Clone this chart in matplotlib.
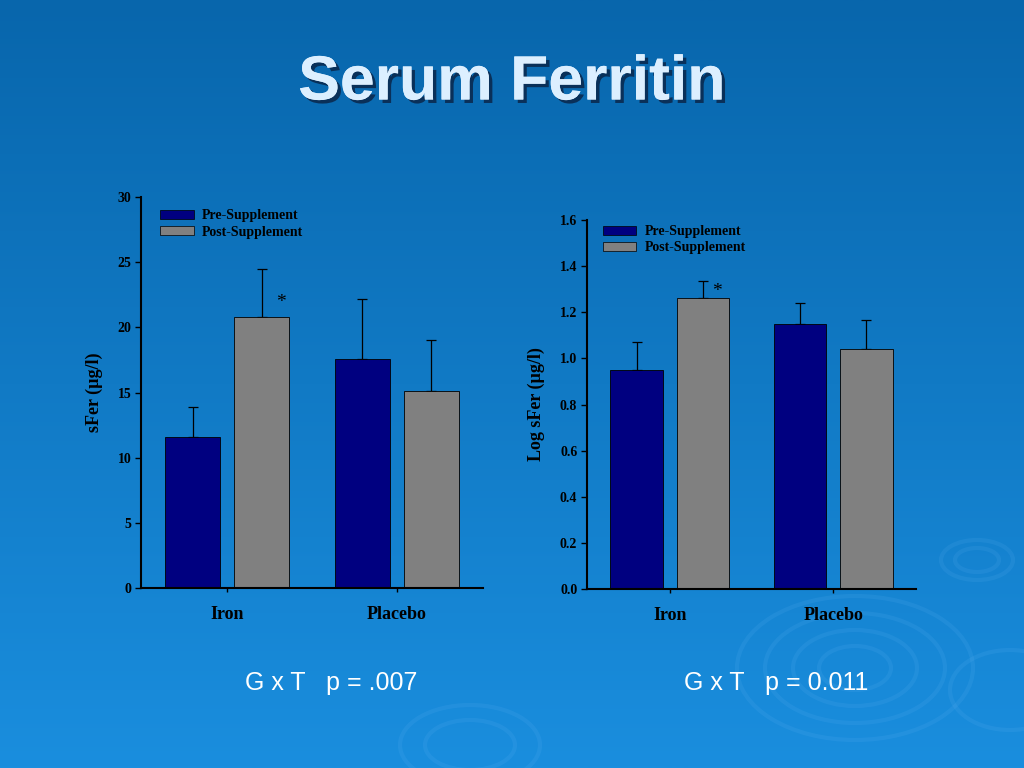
import numpy as np
import matplotlib
matplotlib.use("Agg")
import matplotlib.pyplot as plt
import matplotlib.patheffects as pe
from matplotlib.patches import Ellipse, Patch

# data
groups = ["Iron", "Placebo"]
series = ["Pre-Supplement", "Post-Supplement"]

sfer_pre = [11.6, 17.6]
sfer_post = [20.8, 15.1]
sfer_pre_err = [2.3, 4.6]
sfer_post_err = [3.7, 3.9]

log_pre = [0.95, 1.15]
log_post = [1.26, 1.04]
log_pre_err = [0.12, 0.09]
log_post_err = [0.075, 0.125]

left_stat = "G x T   p = .007"
right_stat = "G x T   p = 0.011"

PRE_COLOR = "#000080"
POST_COLOR = "#808080"
SERIF = ["Liberation Serif", "DejaVu Serif"]
SANS = ["Liberation Sans", "DejaVu Sans"]

fig = plt.figure(figsize=(10.24, 7.68), dpi=100)

# slide background: vertical blue gradient plus a few faint ripples
bg = fig.add_axes([0, 0, 1, 1], zorder=-10)
grad = np.linspace(0, 1, 256)[:, None]
top = np.array([8, 102, 172]) / 255
bottom = np.array([26, 142, 222]) / 255
img = top[None, None, :] * (1 - grad[..., None]) + bottom[None, None, :] * grad[..., None]
bg.imshow(img, extent=[0, 1024, 768, 0], aspect="auto")
for cx, cy, rx, ry in [(855, 668, 118, 72), (855, 668, 90, 55), (855, 668, 62, 38),
                       (855, 668, 36, 22), (977, 560, 36, 20), (977, 560, 22, 12),
                       (470, 745, 70, 40), (470, 745, 45, 25), (1010, 690, 60, 40)]:
    bg.add_patch(Ellipse((cx, cy), 2 * rx, 2 * ry, fill=False,
                         edgecolor="#7cc4ff", alpha=0.1, lw=3))
bg.set_xlim(0, 1024)
bg.set_ylim(768, 0)
bg.axis("off")

fig.text(0.5, 1 - 83 / 768, "Serum Ferritin", ha="center", va="center",
         fontsize=45, fontweight="bold", family=SANS, color="#dcefff",
         path_effects=[pe.withSimplePatchShadow(offset=(2.5, -2.5), shadow_rgbFace="#0a2a50", alpha=0.9),
                       pe.Normal()])


def draw_panel(rect, pre, post, pre_err, post_err, ylim, yticks, fmt, ylabel,
               label_x, star, leg_anchor):
    ax = fig.add_axes(rect)
    ax.set_facecolor("none")
    x = np.arange(len(groups))
    w = 0.32
    off = 0.203
    ax.bar(x - off, pre, w, color=PRE_COLOR, edgecolor="black", linewidth=0.6, label=series[0], zorder=2)
    ax.bar(x + off, post, w, color=POST_COLOR, edgecolor="black", linewidth=0.6, label=series[1], zorder=2)
    ax.errorbar(x - off, pre, yerr=[np.zeros(len(pre)), pre_err], fmt="none",
                ecolor="black", elinewidth=0.9, capsize=3.5, capthick=0.9, zorder=1)
    ax.errorbar(x + off, post, yerr=[np.zeros(len(post)), post_err], fmt="none",
                ecolor="black", elinewidth=0.9, capsize=3.5, capthick=0.9, zorder=1)
    ax.text(star[0], star[1], "*", ha="center", va="center", fontsize=14,
            family=SERIF, color="black")

    ax.set_xlim(-0.506, 1.506)
    ax.set_ylim(*ylim)
    ax.set_yticks(yticks)
    ax.set_yticklabels([fmt.format(v) for v in yticks], family=SERIF,
                       fontweight="bold", fontsize=10, color="black")
    ax.set_xticks(x)
    ax.set_xticklabels(groups, family=SERIF, fontweight="bold", fontsize=13, color="black")
    ax.tick_params(axis="y", direction="out", length=4, width=1, pad=3)
    ax.tick_params(axis="x", direction="out", length=3, width=1, pad=10)
    for s in ["top", "right"]:
        ax.spines[s].set_visible(False)
    for s in ["left", "bottom"]:
        ax.spines[s].set_linewidth(1.5)
        ax.spines[s].set_color("black")
    ax.set_ylabel(ylabel, family=SERIF, fontweight="bold", fontsize=13, color="black")
    ax.yaxis.set_label_coords(label_x, 0.5)

    handles = [Patch(facecolor=PRE_COLOR, edgecolor="black", linewidth=0.5),
               Patch(facecolor=POST_COLOR, edgecolor="black", linewidth=0.5)]
    leg = ax.legend(handles, series, loc="upper left", bbox_to_anchor=leg_anchor,
                    frameon=False, handlelength=2.4, handleheight=0.65,
                    handletextpad=0.6, labelspacing=0.22,
                    prop={"family": SERIF, "weight": "bold", "size": 10})
    for t in leg.get_texts():
        t.set_color("black")
    return ax


draw_panel([141 / 1024, 180 / 768, 342 / 1024, 391 / 768],
           sfer_pre, sfer_post, sfer_pre_err, sfer_post_err,
           (0, 30), [0, 5, 10, 15, 20, 25, 30], "{:g}",
           "sFer (\u00b5g/l)", -0.111, (0.32, 21.9), (0.02, 1.0))

draw_panel([587 / 1024, 179 / 768, 329 / 1024, 369 / 768],
           log_pre, log_post, log_pre_err, log_post_err,
           (0, 1.6), [0.0, 0.2, 0.4, 0.6, 0.8, 1.0, 1.2, 1.4, 1.6], "{:.1f}",
           "Log sFer (\u00b5g/l)", -0.128, (0.29, 1.292), (0.01, 1.02))

fig.text(331 / 1024, 1 - 683 / 768, left_stat, ha="center", va="center",
         fontsize=18, family=SANS, color="white")
fig.text(776 / 1024, 1 - 683 / 768, right_stat, ha="center", va="center",
         fontsize=18, family=SANS, color="white")

fig.savefig("out.png", dpi=100)
